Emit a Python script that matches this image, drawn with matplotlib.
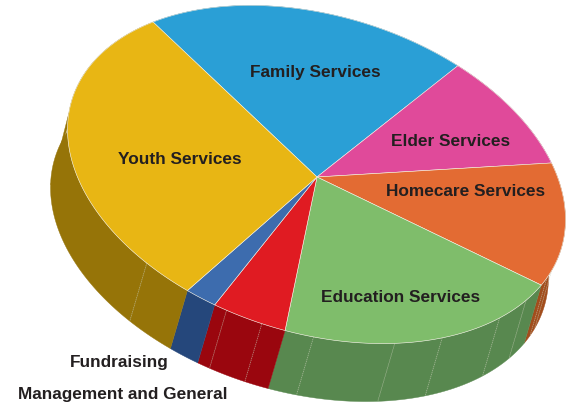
#plot.py
#Tilted 3D style pie chart of spending by program

import numpy as np
import matplotlib
matplotlib.use('Agg')
import matplotlib.pyplot as plt
from matplotlib.patches import Polygon

plt.rcParams['font.family'] = ['Liberation Sans', 'DejaVu Sans']

#Slices in clockwise order, starting at the Family/Youth border
names = ['Family Services', 'Elder Services', 'Homecare Services', 'Education Services',
         'Management and General', 'Fundraising', 'Youth Services']
shares = [21.0, 10.03, 12.44, 19.94, 4.69, 1.97, 29.93]
top_colors = ['#2A9FD6', '#E04A9A', '#E36B33', '#7FBD6B', '#E01B22', '#3D6CAE', '#E8B614']
side_colors = ['#1D6F96', '#9C346B', '#A24D1C', '#58884F', '#9A060E', '#25477B', '#967408']

#Where the facets of the side wall meet (degrees round the pie)
ridges = [8.5, 11.5, 22, 32, 49, 61, 80, 92, 100.5, 122.3]

#Label positions in pixels
label_x = [315, 451, 466, 401, 122.5, 119, 180]
label_y = [72, 141, 191, 297, 394.5, 362, 160]

start_angle = -141.7
cx, cy = 316.5, 174.5
apex_x, apex_y = 317, 177
a, b = 255.7, 158.7
tilt = 16.9
depth_x, depth_y = -17, 58

fig = plt.figure(figsize=(5.67, 4.04), dpi=100)
ax = fig.add_axes([0, 0, 1, 1])


def rim(t):
    #Point on the top ellipse for angle t in degrees
    t = np.radians(t)
    c, s = np.cos(np.radians(tilt)), np.sin(np.radians(tilt))
    x = a * np.cos(t)
    y = b * np.sin(t)
    return cx + x * c - y * s, cy + x * s + y * c


edges = start_angle + np.cumsum([0] + shares) / np.sum(shares) * 360

#Side wall first, then the top over it
for i in range(len(shares)):
    t = np.linspace(edges[i], edges[i + 1], 80)
    x, y = rim(t)
    pts = np.column_stack([np.r_[x, x[::-1] + depth_x], np.r_[y, y[::-1] + depth_y]])
    ax.add_patch(Polygon(pts, closed=True, facecolor=side_colors[i], edgecolor=side_colors[i],
                         linewidth=0.3, zorder=2))

#The wall starts higher up on the left, straight edge from the rim
x0, y0 = rim(175.2)
x1, y1 = rim(170.3)
ax.add_patch(Polygon([[x0, y0], [x1 + depth_x, y1 + depth_y], [x1, y1]], closed=True,
                     facecolor=side_colors[6], edgecolor=side_colors[6], linewidth=0.3, zorder=2))

for r in ridges:
    x, y = rim(r)
    ax.plot([x, x + depth_x], [y, y + depth_y], color='#C9CDB8', linewidth=0.5,
            linestyle=(0, (2, 1)), alpha=0.7, zorder=2.5)

for i in range(len(shares)):
    t = np.linspace(edges[i], edges[i + 1], 120)
    x, y = rim(t)
    pts = np.column_stack([np.r_[apex_x, x], np.r_[apex_y, y]])
    ax.add_patch(Polygon(pts, closed=True, facecolor=top_colors[i], edgecolor='#F4F1E6',
                         linewidth=0.4, zorder=3))

for i in range(len(names)):
    ax.text(label_x[i], label_y[i], names[i], ha='center', va='center', fontsize=12.4,
            fontweight='bold', color='#231F20', zorder=5)

ax.set_xlim(0, 567)
ax.set_ylim(404, 0)
ax.axis('off')

fig.savefig('out.png', dpi=100)
